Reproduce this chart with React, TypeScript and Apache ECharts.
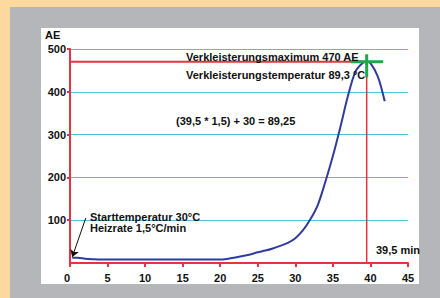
import React, { useEffect, useRef } from "react";
import * as echarts from "echarts";

const timeMin = [0.3, 1, 2, 3, 5, 10, 15, 20, 22, 24, 25, 26, 27, 28, 29, 30, 31, 32, 33, 34, 35, 36, 37, 38, 39, 39.5, 40, 41, 41.9];
const viscosityAE = [12, 12, 10, 9, 8, 8, 8, 8, 13, 20, 25, 29, 34, 40, 47, 58, 76, 102, 136, 190, 250, 318, 390, 447, 468, 470, 467, 435, 378];
const xTicks = [0, 5, 10, 15, 20, 25, 30, 35, 40, 45];
const yTicks = [0, 100, 200, 300, 400, 500];
const peakTime = 39.5;
const peakAE = 470;

const FONT = "'Liberation Sans', Arial, sans-serif";
const RED = "#e8333f";
const CYAN = "#4cc3d6";
const BLUE = "#2f3c9c";
const GREEN = "#1fa84a";

export default function App() {
  const ref = useRef<HTMLDivElement>(null);
  useEffect(() => {
    if (!ref.current) return;
    const chart = echarts.init(ref.current, undefined, { renderer: "svg" });
    const curve = timeMin.map((t, i) => [t, viscosityAE[i]]);
    const textStyle = (s: string) => ({ text: s, fill: "#111", font: `bold 11px ${FONT}` });
    chart.setOption({
      animation: false,
      backgroundColor: "transparent",
      textStyle: { fontFamily: FONT },
      grid: { left: 70, right: 32, top: 49, bottom: 35 },
      xAxis: {
        type: "value",
        min: xTicks[0],
        max: xTicks[xTicks.length - 1],
        interval: 5,
        axisLine: { lineStyle: { color: RED, width: 2 } },
        axisTick: { show: true, length: 4, lineStyle: { color: RED, width: 2 } },
        axisLabel: { color: "#111", fontWeight: "bold", fontSize: 11, margin: 9, fontFamily: FONT, alignMinLabel: "right" },
        splitLine: { show: false },
      },
      yAxis: {
        type: "value",
        min: yTicks[0],
        max: yTicks[yTicks.length - 1],
        interval: 100,
        axisLine: { show: true, lineStyle: { color: RED, width: 2 } },
        axisTick: { show: true, length: 3, lineStyle: { color: RED, width: 2 } },
        axisLabel: { color: "#111", fontWeight: "bold", fontSize: 11, margin: 4, showMinLabel: false, fontFamily: FONT },
        splitLine: { show: true, lineStyle: { color: CYAN, width: 1 } },
      },
      series: [
        {
          type: "line",
          data: [[0, peakAE], [peakTime, peakAE]],
          symbol: "none",
          lineStyle: { color: RED, width: 2 },
          z: 3,
        },
        {
          type: "line",
          data: [[peakTime, 0], [peakTime, peakAE]],
          symbol: "none",
          lineStyle: { color: RED, width: 1.5 },
          z: 3,
        },
        {
          type: "line",
          data: curve,
          smooth: 0.3,
          symbol: "none",
          lineStyle: { color: BLUE, width: 2 },
          z: 4,
          markLine: {
            silent: true,
            symbol: ["none", "arrow"],
            symbolSize: 7,
            label: { show: false },
            lineStyle: { color: "#111", width: 1, type: "solid" },
            data: [[{ coord: [2.1, 105] }, { coord: [0.3, 14] }]],
          },
        },
        {
          type: "line",
          data: [[37.4, peakAE], [41.7, peakAE]],
          symbol: "none",
          lineStyle: { color: GREEN, width: 3 },
          z: 5,
        },
        {
          type: "line",
          data: [[peakTime, 488], [peakTime, 434]],
          symbol: "none",
          lineStyle: { color: GREEN, width: 3 },
          z: 5,
        },
      ],
      graphic: [
        { type: "text", left: 45, top: 29, z: 10, style: textStyle("AE") },
        { type: "text", left: 186, top: 51, z: 10, style: textStyle("Verkleisterungsmaximum 470 AE") },
        { type: "text", left: 186, top: 69, z: 10, style: textStyle("Verkleisterungstemperatur 89,3 °C") },
        { type: "text", left: 176, top: 115, z: 10, style: textStyle("(39,5 * 1,5) + 30 = 89,25") },
        { type: "text", left: 90, top: 211, z: 10, style: textStyle("Starttemperatur 30°C") },
        { type: "text", left: 90, top: 222, z: 10, style: textStyle("Heizrate 1,5°C/min") },
        { type: "text", left: 376, top: 244, z: 10, style: textStyle("39,5 min") },
      ],
    });
    return () => chart.dispose();
  }, []);

  return (
    <div style={{ position: "absolute", left: 0, top: 0, width: 440, height: 298, background: "#fdd9a0", overflow: "hidden" }}>
      <div style={{ position: "absolute", left: 10, top: 7, width: 430, height: 291, background: "#b5b6ba" }} />
      <div style={{ position: "absolute", left: 41, top: 28, width: 378, height: 256, background: "#ffffff" }} />
      <div ref={ref} style={{ position: "absolute", left: 0, top: 0, width: 440, height: 298 }} />
    </div>
  );
}
